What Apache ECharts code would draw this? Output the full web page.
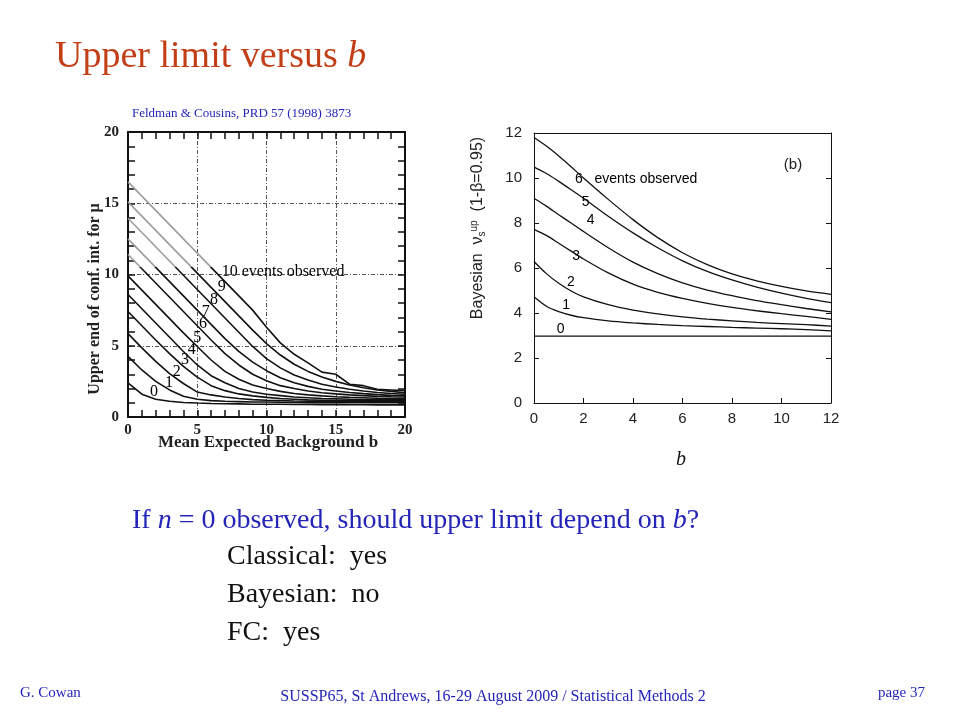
<!DOCTYPE html>
<html><head><meta charset="utf-8">
<script src="https://cdn.jsdelivr.net/npm/echarts/dist/echarts.min.js"></script>
<style>html,body{margin:0;padding:0;background:#fff}#c{width:960px;height:720px}</style>
</head><body><div id="c"></div>
<script>
// ---- Left plot (Feldman & Cousins) ----
const fcB = [0,1,2,3,4,5,6,7,8,9,10,11,12,13,14,15,16,17,18,19,20];
const fcN0  = [2.4,1.6,1.25,1.1,1.02,0.98,0.95,0.93,0.92,0.9,0.9,0.9,0.88,0.88,0.87,0.87,0.86,0.86,0.85,0.85,0.85];
const fcN1  = [4.25,3.3,2.5,1.9,1.45,1.25,1.15,1.1,1.08,1.05,1.05,1.03,1.02,1.0,1.0,1.0,1.0,1.0,1.0,1.0,1.0];
const fcN2  = [5.85,4.85,3.9,3.05,2.35,1.75,1.55,1.4,1.3,1.22,1.18,1.15,1.12,1.1,1.1,1.1,1.08,1.08,1.08,1.08,1.08];
const fcN3  = [7.4,6.4,5.4,4.45,3.55,2.8,2.2,1.85,1.62,1.48,1.38,1.3,1.25,1.2,1.18,1.17,1.16,1.15,1.15,1.15,1.15];
const fcN4  = [8.6,7.6,6.6,5.6,4.6,3.65,2.9,2.4,2.0,1.75,1.6,1.5,1.4,1.35,1.3,1.28,1.25,1.23,1.22,1.2,1.2];
const fcN5  = [9.9,8.9,7.9,6.9,5.9,4.95,4.0,3.2,2.65,2.25,2.0,1.8,1.65,1.55,1.48,1.42,1.38,1.35,1.32,1.3,1.3];
const fcN6  = [11.4,10.4,9.4,8.4,7.4,6.4,5.4,4.45,3.65,3.0,2.55,2.2,2.0,1.82,1.7,1.62,1.55,1.5,1.45,1.42,1.4];
const fcN7  = [12.5,11.5,10.5,9.5,8.5,7.5,6.5,5.5,4.6,3.85,3.25,2.75,2.4,2.15,1.95,1.82,1.72,1.64,1.57,1.52,1.5];
const fcN8  = [13.95,12.95,11.95,10.95,9.95,8.95,7.95,6.95,5.95,4.95,4.1,3.45,2.95,2.6,2.3,2.1,1.95,1.82,1.72,1.65,1.6];
const fcN9  = [15.1,14.1,13.1,12.1,11.1,10.1,9.1,8.1,7.1,6.1,5.15,4.35,3.7,3.2,2.8,2.5,2.25,2.05,1.9,1.8,1.7];
const fcN10 = [16.5,15.5,14.5,13.5,12.5,11.5,10.5,9.5,8.5,7.5,6.3,5.2,4.4,3.8,3.15,3.0,2.3,2.2,1.95,1.9,1.85];
const fcLabelText = ['0','1','2','3','4','5','6','7','8','9','10 events observed'];
const fcLabelB    = [1.95,3.03,3.59,4.19,4.67,5.08,5.49,5.68,6.28,6.84,7.13];
const fcLabelV    = [1.78,2.39,3.18,4.0,4.7,5.59,6.53,7.39,8.21,9.14,10.2];

// ---- Right plot (Bayesian) ----
const bayB  = [0,0.5,1,1.5,2,3,4,5,6,7,8,9,10,11,12];
const bayN0 = [2.97,2.97,2.97,2.97,2.97,2.97,2.97,2.97,2.97,2.97,2.97,2.97,2.97,2.97,2.97];
const bayN1 = [4.72,4.3,4.06,3.9,3.79,3.65,3.56,3.49,3.44,3.4,3.36,3.33,3.3,3.26,3.21];
const bayN2 = [6.29,5.75,5.32,4.98,4.72,4.37,4.13,3.96,3.83,3.73,3.65,3.58,3.53,3.48,3.42];
const bayN3 = [7.72,7.45,7.1,6.75,6.4,5.78,5.28,4.92,4.65,4.43,4.25,4.1,3.97,3.85,3.72];
const bayN4 = [9.1,8.75,8.37,8.0,7.62,6.9,6.26,5.75,5.34,5.02,4.77,4.55,4.37,4.2,4.05];
const bayN5 = [10.48,10.2,9.85,9.48,9.1,8.3,7.56,6.9,6.32,5.85,5.47,5.15,4.88,4.65,4.46];
const bayN6 = [11.8,11.42,10.98,10.5,10.0,9.05,8.15,7.35,6.68,6.15,5.74,5.43,5.18,4.98,4.83];
const bayLabelText = ['0','1','2','3','4','5','6   events observed'];
const bayLabelB    = [1.12,1.34,1.54,1.75,2.33,2.13,1.86];
const bayLabelV    = [3.27,4.35,5.35,6.52,8.13,8.94,9.93];

const fcSets  = [fcN0,fcN1,fcN2,fcN3,fcN4,fcN5,fcN6,fcN7,fcN8,fcN9,fcN10];
const baySets = [bayN0,bayN1,bayN2,bayN3,bayN4,bayN5,bayN6];

const SERIF = "'Liberation Serif', 'Times New Roman', serif";
const SANS  = "'Liberation Sans', Arial, sans-serif";
const BLUE  = '#2424b8';

const chart = echarts.init(document.getElementById('c'), null, {renderer:'canvas'});

const series = [];
fcSets.forEach((arr, n) => {
  const ls = {width:1.6};
  if (n < 5) ls.color = '#111';
  series.push({
    type:'line', xAxisIndex:0, yAxisIndex:0, silent:true, showSymbol:false, symbol:'none',
    data: fcB.map((b,i)=>[b, arr[i]]),
    lineStyle:ls, animation:false, z:5
  });
});
baySets.forEach((arr, n) => {
  series.push({
    type:'line', xAxisIndex:2, yAxisIndex:2, silent:true, showSymbol:false, symbol:'none', smooth:0.3,
    data: bayB.map((b,i)=>[b, arr[i]]),
    lineStyle:{width:1.3, color:'#111'}, animation:false
  });
});
series.push({
  type:'scatter', xAxisIndex:0, yAxisIndex:0, silent:true, symbolSize:0, animation:false,
  itemStyle:{opacity:1},
  data: fcLabelText.map((t,i)=>[fcLabelB[i], fcLabelV[i], t]),
  label:{show:true, position:'right', distance:0, formatter:p=>p.data[2],
    fontFamily:SERIF, fontSize:16, color:'#000', opacity:1, offset:[-5,0]}
});
series.push({
  type:'scatter', xAxisIndex:2, yAxisIndex:2, silent:true, symbolSize:0, animation:false,
  itemStyle:{opacity:1},
  data: bayLabelText.map((t,i)=>[bayLabelB[i], bayLabelV[i], t]),
  label:{show:true, position:'right', distance:0, formatter:p=>p.data[2],
    fontFamily:SANS, fontSize:14, color:'#000', opacity:1, offset:[-5,0]}
});

const fcTick = {show:true, inside:true, length:7, lineStyle:{color:'#111', width:1.5}};
const fcMinor = {show:true, splitNumber:5, length:7, lineStyle:{color:'#111', width:1.5}};
const fcSplit = {show:true, lineStyle:{color:'#555', width:1, type:[4,2,1,2]}};
const fcLine = {show:true, onZero:false, lineStyle:{color:'#111', width:2}};
const fcLab = {fontFamily:SERIF, fontWeight:'bold', fontSize:15, color:'#222'};

const bTick = {show:true, inside:true, length:5, lineStyle:{color:'#111', width:1}};
const bLine = {show:true, onZero:false, lineStyle:{color:'#111', width:1}};
const bLab = {fontFamily:SANS, fontSize:15, color:'#222'};

const option = {
  backgroundColor:'#fff',
  animation:false,
  grid:[
    {left:128, top:132, width:277, height:285},
    {left:534, top:133, width:297, height:270}
  ],
  visualMap:{type:'piecewise', show:false, dimension:1, seriesIndex:[5,6,7,8,9,10],
    pieces:[{min:10.5, max:30, color:'#9c9c9c'},{min:-10, max:10.5, color:'#111'}]},
  xAxis:[
    {gridIndex:0, type:'value', min:0, max:20, interval:5, position:'bottom',
     axisLine:fcLine, axisTick:fcTick, minorTick:fcMinor, splitLine:fcSplit,
     axisLabel:Object.assign({margin:6}, fcLab)},
    {gridIndex:0, type:'value', min:0, max:20, interval:5, position:'top',
     axisLine:fcLine, axisTick:fcTick, minorTick:fcMinor, splitLine:{show:false}, axisLabel:{show:false}},
    {gridIndex:1, type:'value', min:0, max:12, interval:2, position:'bottom',
     axisLine:bLine, axisTick:bTick, splitLine:{show:false},
     axisLabel:Object.assign({margin:8}, bLab)},
    {gridIndex:1, type:'value', min:0, max:12, interval:2, position:'top',
     axisLine:bLine, axisTick:{show:false}, splitLine:{show:false}, axisLabel:{show:false}}
  ],
  yAxis:[
    {gridIndex:0, type:'value', min:0, max:20, interval:5, position:'left',
     axisLine:fcLine, axisTick:fcTick, minorTick:fcMinor, splitLine:fcSplit,
     axisLabel:Object.assign({margin:9}, fcLab)},
    {gridIndex:0, type:'value', min:0, max:20, interval:5, position:'right',
     axisLine:fcLine, axisTick:fcTick, minorTick:fcMinor, splitLine:{show:false}, axisLabel:{show:false}},
    {gridIndex:1, type:'value', min:0, max:12, interval:2, position:'left',
     axisLine:bLine, axisTick:bTick, splitLine:{show:false},
     axisLabel:Object.assign({margin:12}, bLab)},
    {gridIndex:1, type:'value', min:0, max:12, interval:2, position:'right',
     axisLine:bLine, axisTick:bTick, splitLine:{show:false}, axisLabel:{show:false}}
  ],
  series: series,
  graphic:[
    {type:'text', left:55, top:38, style:{
      text:'Upper limit versus {i|b}', fill:'#c23e17', font:"38px "+SERIF,
      rich:{i:{fontStyle:'italic', fontFamily:SERIF, fontSize:38, fill:'#c23e17'}}}},
    {type:'text', left:132, top:107, style:{
      text:'Feldman & Cousins, PRD 57 (1998) 3873', fill:BLUE, font:"13px "+SERIF}},
    {type:'text', x:95, y:299, rotation:Math.PI/2, style:{
      text:'Upper end of conf. int. for μ', fill:'#222', font:"bold 16px "+SERIF,
      align:'center', verticalAlign:'middle'}},
    {type:'text', x:268, y:443, style:{
      text:'Mean Expected Background b', fill:'#222', font:"bold 17px "+SERIF,
      align:'center', verticalAlign:'middle'}},
    {type:'text', x:478, y:228, rotation:Math.PI/2, style:{
      text:'Bayesian  ν{sub|s}{sup|up}  (1-β=0.95)', fill:'#222', font:"16px "+SANS,
      align:'center', verticalAlign:'middle',
      rich:{sub:{fontSize:10, fontFamily:SANS, fill:'#222', verticalAlign:'bottom', padding:[6,0,0,0]},
            sup:{fontSize:10, fontFamily:SANS, fill:'#222', verticalAlign:'top', padding:[0,0,8,0]}}}},
    {type:'text', x:793, y:165, style:{
      text:'(b)', fill:'#222', font:"15px "+SANS, align:'center', verticalAlign:'middle'}},
    {type:'text', x:681, y:460, style:{
      text:'b', fill:'#111', font:"italic 20px "+SERIF, align:'center', verticalAlign:'middle'}},
    {type:'text', left:132, top:507, style:{
      text:'If {i|n} = 0 observed, should upper limit depend on {i|b}?', fill:BLUE, font:"28px "+SERIF,
      rich:{i:{fontStyle:'italic', fontFamily:SERIF, fontSize:28, fill:BLUE}}}},
    {type:'text', left:227, top:543, style:{text:'Classical:  yes', fill:'#111', font:"28px "+SERIF}},
    {type:'text', left:227, top:581, style:{text:'Bayesian:  no', fill:'#111', font:"28px "+SERIF}},
    {type:'text', left:227, top:619, style:{text:'FC:  yes', fill:'#111', font:"28px "+SERIF}},
    {type:'text', left:20, top:686, style:{text:'G. Cowan', fill:BLUE, font:"15px "+SERIF}},
    {type:'text', x:493, y:697, style:{text:'SUSSP65, St Andrews, 16-29 August 2009 / Statistical Methods 2',
      fill:BLUE, font:"16px "+SERIF, align:'center', verticalAlign:'middle'}},
    {type:'text', x:925, y:693, style:{text:'page 37', fill:BLUE, font:"15px "+SERIF, align:'right', verticalAlign:'middle'}}
  ]
};
chart.setOption(option);
</script>
</body></html>
